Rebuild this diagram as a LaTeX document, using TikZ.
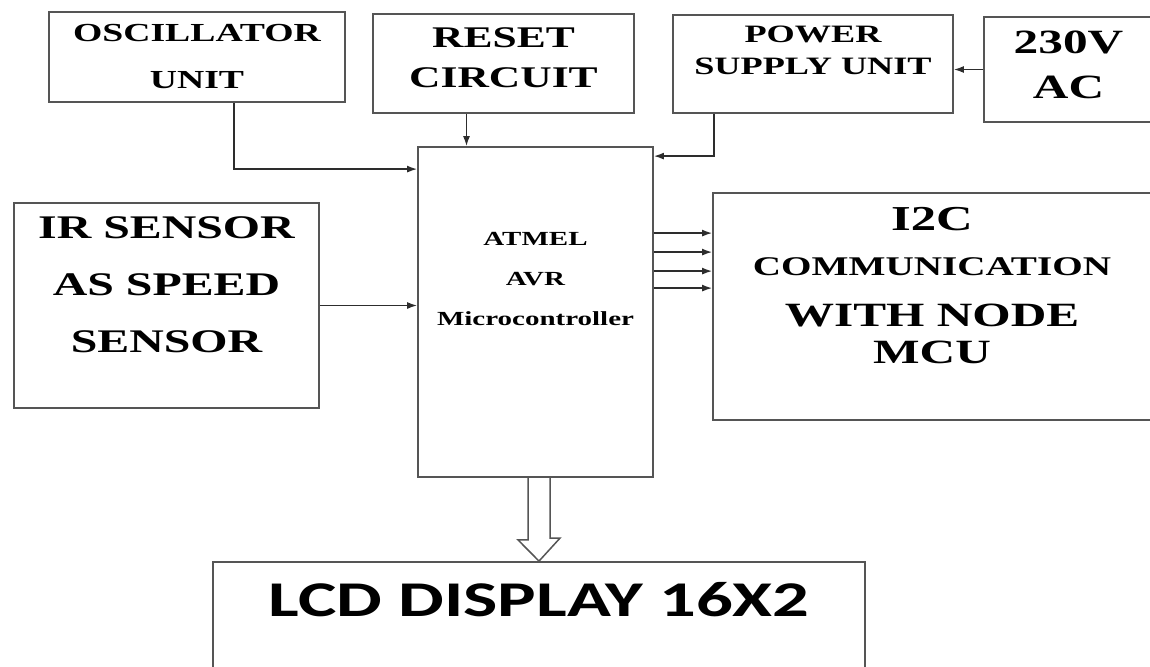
\documentclass[tikz,border=0pt]{standalone}
\usepackage{fontspec}
\newfontfamily\blockfont[FakeStretch=1.45]{Liberation Serif}
\newfontfamily\lcdfont[FakeStretch=1.45]{Carlito}
\definecolor{blkgray}{RGB}{85,85,85}
\definecolor{wiregray}{RGB}{45,45,45}
\usetikzlibrary{arrows.meta,positioning,calc}

\begin{document}
\begin{tikzpicture}[
  x=1pt,y=-1pt,
  blk/.style={draw=blkgray,line width=1.8pt},
  lbl/.style 2 args={inner sep=0pt,align=center,font=\blockfont\bfseries\fontsize{#1}{#2}\selectfont},
  conn/.style={->,draw=wiregray,line width=1.4pt},
  hollow/.style={draw=blkgray,line width=1.5pt,line join=miter},
  >={Latex[length=10pt,width=7pt]}
]
  \useasboundingbox (0,0) rectangle (1150,666);
  \clip (0,0) rectangle (1150,666);
  % blocks
  \node[blk,minimum width=296,minimum height=90] (osc) at (197,57) {};
  \node[blk,minimum width=261,minimum height=99] (reset) at (503.5,63.5) {};
  \node[blk,minimum width=280,minimum height=98] (psu) at (813,64) {};
  \node[blk,minimum width=169,minimum height=105] (ac) at (1068.5,69.5) {};
  \node[blk,minimum width=235,minimum height=330] (micro) at (535.5,312) {};
  \node[blk,minimum width=305,minimum height=205] (ir) at (166.5,305.5) {};
  \node[blk,minimum width=438,minimum height=227] (i2c) at (932,306.5) {};
  \node[blk,minimum width=652,minimum height=128] (lcd) at (539,626) {};
  % texts
  \node[lbl={26}{47},below=13pt of osc.north] (osc-txt) {OSCILLATOR\\UNIT};
  \node[lbl={30}{40},below=14pt of reset.north] (reset-txt) {RESET\\CIRCUIT};
  \node[lbl={25}{32},below=12pt of psu.north] (psu-txt) {POWER\\SUPPLY UNIT};
  \node[lbl={34}{45},below=15pt of ac.north] (ac-txt) {230V\\AC};
  \node[lbl={20}{40},below=86pt of micro.north] (micro-txt) {ATMEL\\AVR\\Microcontroller};
  \node[lbl={33}{57},below=14pt of ir.north] (ir-txt) {IR SENSOR\\AS SPEED\\SENSOR};
  \node[lbl={27}{37},below=15pt of i2c.north] (i2c-txt) {\fontsize{35}{37}\selectfont I2C\\[8pt]COMMUNICATION\\[14pt]\fontsize{34}{37}\selectfont WITH NODE\\\fontsize{34}{37}\selectfont MCU};
  \node[inner sep=0pt,font=\lcdfont\bfseries\fontsize{50}{60}\selectfont,below=21pt of lcd.north] (lcd-txt) {LCD DISPLAY 16X2};
  % connectors
  \draw[conn] (ac.west) -- (psu.east |- ac.west);
  \draw[conn] ([xshift=37pt]osc.south) |- ([yshift=-23pt]micro.north west);
  \coordinate (rst) at ([xshift=-37pt]reset.south);
  \draw[conn] (rst) -- (rst |- micro.north);
  \draw[conn] ([xshift=-99pt]psu.south) |- ([yshift=-10pt]micro.north east);
  \draw[conn] (ir.east) -- (ir.east -| micro.west);
  \foreach \dy in {41,60,79,96}{
    \coordinate (tap) at ([yshift=-\dy]i2c.north west);
    \draw[conn] (tap -| micro.east) -- (tap);
  }
  \draw[hollow] ($(lcd.north |- micro.south)+(-11,0)$) -- ++(0,62) -- ++(-10,0) -- (lcd.north) -- ++(21,-23) -- ++(-10,0) -- ++(0,-62);
\end{tikzpicture}
\end{document}
